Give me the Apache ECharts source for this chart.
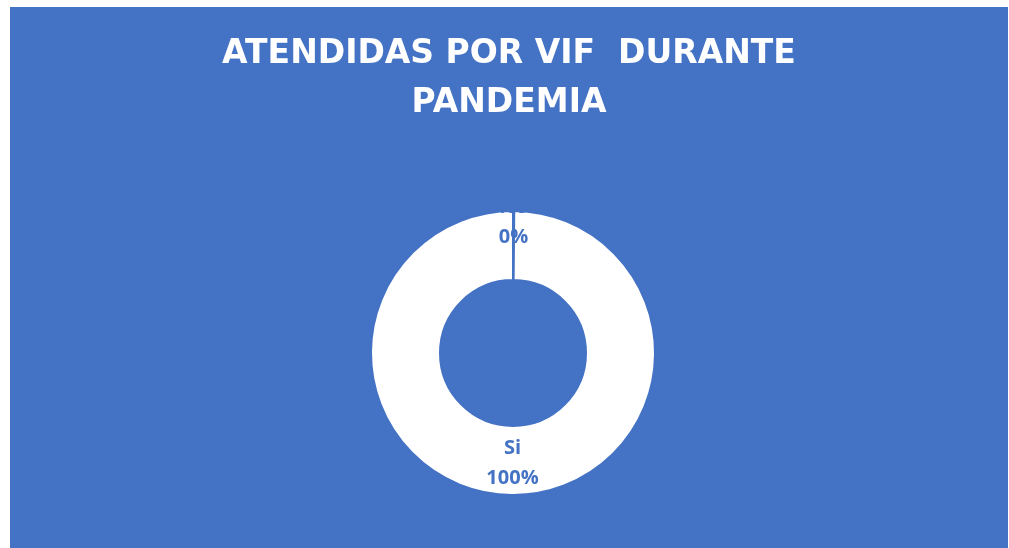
<!DOCTYPE html>
<html>
<head>
<meta charset="utf-8">
<script src="https://cdn.jsdelivr.net/npm/echarts@6/dist/echarts.min.js"></script>
<style>
  html, body { margin: 0; padding: 0; background: #ffffff; }
  #chart { position: absolute; left: 10px; top: 7px; width: 998px; height: 541px; background: #4472C4; }
</style>
</head>
<body>
<div id="chart"></div>
<script>
const titleText = 'ATENDIDAS POR VIF  DURANTE\nPANDEMIA';
const categories = ['No', 'Si'];
const values = [0, 100];

const BLUE = '#4472C4';
const chart = echarts.init(document.getElementById('chart'));
chart.setOption({
  backgroundColor: BLUE,
  animation: false,
  title: {
    text: titleText,
    left: 'center',
    top: 23,
    padding: 0,
    textStyle: {
      color: '#ffffff',
      fontFamily: 'DejaVu Sans',
      fontWeight: 'bold',
      fontSize: 33,
      lineHeight: 49
    }
  },
  series: [{
    type: 'pie',
    center: [503, 346],
    radius: [73, 142],
    startAngle: 90,
    clockwise: true,
    minAngle: 0.5,
    avoidLabelOverlap: false,
    labelLine: { show: false },
    label: {
      show: true,
      position: 'inside',
      formatter: '{b}\n{d}%',
      color: BLUE,
      fontFamily: 'Open Sans',
      fontWeight: 'bold',
      fontSize: 20,
      lineHeight: 30
    },
    labelLayout: function (params) {
      return params.dataIndex === 0 ? { dy: -20 } : { dy: 0 };
    },
    data: categories.map(function (c, i) {
      const item = { name: c, value: values[i] };
      if (i === 0) {
        item.itemStyle = { color: BLUE, borderColor: BLUE, borderWidth: 0 };
      } else {
        item.itemStyle = { color: '#ffffff', borderColor: BLUE, borderWidth: 2 };
      }
      return item;
    })
  }]
});
</script>
</body>
</html>
